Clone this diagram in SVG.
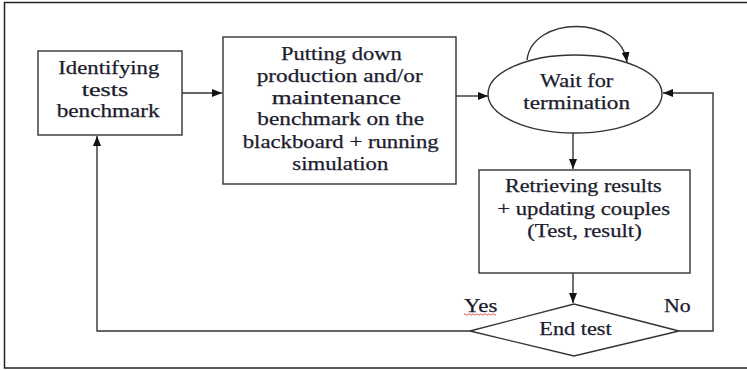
<svg xmlns="http://www.w3.org/2000/svg" width="747" height="370" viewBox="0 0 747 370">
<defs>
<style>
text{font-family:'Liberation Serif','Times New Roman',Times,serif;font-size:18px;fill:#1c1c2e;stroke:#1c1c2e;stroke-width:0.25}
.n{fill:#fff;stroke:#333;stroke-width:1.4}
.c{fill:none;stroke:#333;stroke-width:1.4}
</style>
<marker id="ah" markerUnits="userSpaceOnUse" markerWidth="11" markerHeight="9" refX="10" refY="4" orient="auto">
<path d="M0,0 L10,4 L0,8 z" fill="#111"/>
</marker>
</defs>
<rect width="747" height="370" fill="#fff"/>
<path d="M747,2.5 H4.5 V368 H747" fill="none" stroke="#222" stroke-width="1.5"/>

<g id="connectors">
<path class="c" d="M182,93 H222" marker-end="url(#ah)"/>
<path class="c" d="M456,96 H488" marker-end="url(#ah)"/>
<path class="c" d="M527,60 C532,16 620,14 627,62" marker-end="url(#ah)"/>
<path class="c" d="M573,133 V169" marker-end="url(#ah)"/>
<path class="c" d="M573,273 V303" marker-end="url(#ah)"/>
<path class="c" d="M679,331 H713 V93 H663" marker-end="url(#ah)"/>
<path class="c" d="M470,331 H97 V136" marker-end="url(#ah)"/>
</g>

<g id="identify" font-family="Liberation Serif, serif">
<rect class="n" x="38" y="51" width="144" height="84"/>
<text x="58.3" y="74" textLength="101" lengthAdjust="spacingAndGlyphs">Identifying</text>
<text x="81.7" y="96" textLength="46.6" lengthAdjust="spacingAndGlyphs">tests</text>
<text x="56.7" y="117" textLength="103" lengthAdjust="spacingAndGlyphs">benchmark</text>
</g>

<g id="putting" font-family="Liberation Serif, serif">
<rect class="n" x="223" y="37" width="233" height="147"/>
<text x="281" y="60" textLength="120.7" lengthAdjust="spacingAndGlyphs">Putting down</text>
<text x="256.7" y="82" textLength="166" lengthAdjust="spacingAndGlyphs">production and/or</text>
<text x="271.7" y="103.5" textLength="129.3" lengthAdjust="spacingAndGlyphs">maintenance</text>
<text x="257.3" y="125" textLength="166.7" lengthAdjust="spacingAndGlyphs">benchmark on the</text>
<text x="242.7" y="147.5" textLength="196" lengthAdjust="spacingAndGlyphs">blackboard + running</text>
<text x="292.3" y="169.5" textLength="96" lengthAdjust="spacingAndGlyphs">simulation</text>
</g>

<g id="wait" font-family="Liberation Serif, serif">
<ellipse class="n" cx="575" cy="94" rx="87" ry="39"/>
<text x="540" y="87" textLength="73.3" lengthAdjust="spacingAndGlyphs">Wait for</text>
<text x="523.3" y="108.5" textLength="106.7" lengthAdjust="spacingAndGlyphs">termination</text>
</g>

<g id="retrieve" font-family="Liberation Serif, serif">
<rect class="n" x="479" y="170" width="211" height="103"/>
<text x="505" y="192" textLength="156.7" lengthAdjust="spacingAndGlyphs">Retrieving results</text>
<text x="497.3" y="214.5" textLength="172.7" lengthAdjust="spacingAndGlyphs">+ updating couples</text>
<text x="527.3" y="236.5" textLength="114.4" lengthAdjust="spacingAndGlyphs">(Test, result)</text>
</g>

<g id="endtest" font-family="Liberation Serif, serif">
<polygon class="n" points="470,331 574,304 679,331 574,356"/>
<text x="539.3" y="335" textLength="72.4" lengthAdjust="spacingAndGlyphs">End test</text>
</g>

<g id="labels" font-family="Liberation Serif, serif">
<text x="464" y="312" textLength="33.3" lengthAdjust="spacingAndGlyphs">Yes</text>
<path d="M464,314.5 q1,-1.5 2,0 t2,0 t2,0 t2,0 t2,0 t2,0 t2,0 t2,0 t2,0 t2,0 t2,0 t2,0 t2,0 t2,0 t2,0 t2,0" fill="none" stroke="#e03030" stroke-width="0.8"/>
<text x="664" y="312" textLength="26.7" lengthAdjust="spacingAndGlyphs">No</text>
</g>
</svg>
